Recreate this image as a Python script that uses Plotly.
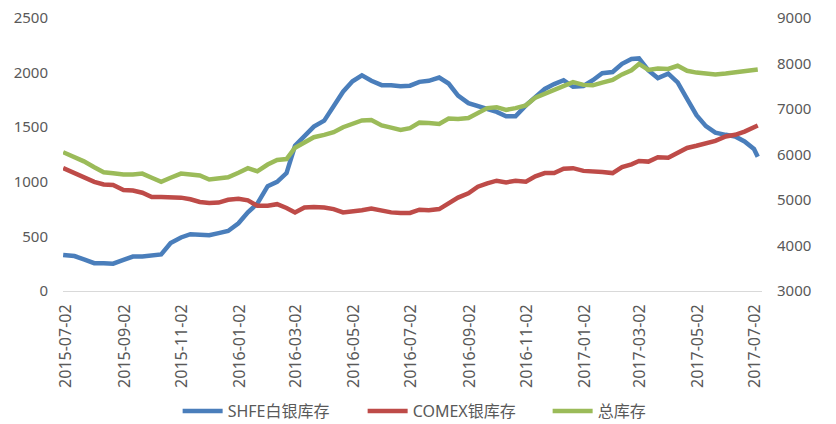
import plotly.graph_objects as go

dates = [
    "2015-06-29", "2015-07-11", "2015-07-21",
    "2015-08-01", "2015-08-11", "2015-08-21",
    "2015-09-01", "2015-09-11", "2015-09-21",
    "2015-10-01", "2015-10-11", "2015-10-21",
    "2015-11-01", "2015-11-11", "2015-11-21",
    "2015-12-01", "2015-12-11", "2015-12-21",
    "2016-01-01", "2016-01-11", "2016-01-21",
    "2016-02-01", "2016-02-11", "2016-02-21",
    "2016-03-01", "2016-03-11", "2016-03-21",
    "2016-04-01", "2016-04-11", "2016-04-21",
    "2016-05-01", "2016-05-11", "2016-05-21",
    "2016-06-01", "2016-06-11", "2016-06-21",
    "2016-07-01", "2016-07-11", "2016-07-21",
    "2016-08-01", "2016-08-11", "2016-08-21",
    "2016-09-01", "2016-09-11", "2016-09-21",
    "2016-10-01", "2016-10-11", "2016-10-21",
    "2016-11-01", "2016-11-11", "2016-11-21",
    "2016-12-01", "2016-12-11", "2016-12-21",
    "2017-01-01", "2017-01-11", "2017-01-21",
    "2017-02-01", "2017-02-11", "2017-02-21",
    "2017-03-01", "2017-03-11", "2017-03-21",
    "2017-04-01", "2017-04-11", "2017-04-21",
    "2017-05-01", "2017-05-11", "2017-05-21",
    "2017-06-01", "2017-06-11", "2017-06-21",
    "2017-07-01", "2017-07-05",
]

shfe = [
    330, 320, 290, 255, 255, 250, 285, 315, 315, 330, 335, 440, 490, 520, 520, 510, 530, 550,
    620, 720, 800, 960, 1000, 1080, 1330, 1420, 1505, 1560, 1700, 1825, 1920, 1975, 1925, 1885, 1885, 1875,
    1880, 1915, 1925, 1955, 1900, 1790, 1720, 1695, 1660, 1640, 1600, 1600, 1700, 1780, 1850, 1895, 1930, 1870,
    1877, 1930, 1995, 2005, 2080, 2125, 2130, 2020, 1950, 1990, 1910, 1760, 1610, 1510, 1450, 1430, 1415, 1370,
    1300, 1230,
]

comex = [
    1125, 1080, 1045, 1000, 975, 970, 925, 920, 900, 860, 860, 860, 855, 840, 815, 805, 810, 835,
    845, 830, 780, 780, 795, 760, 720, 765, 770, 765, 750, 720, 725, 740, 755, 735, 720, 715,
    715, 745, 740, 750, 800, 855, 895, 955, 985, 1010, 995, 1010, 1000, 1050, 1080, 1080, 1120, 1125,
    1100, 1090, 1090, 1080, 1135, 1160, 1190, 1185, 1225, 1220, 1260, 1310, 1330, 1350, 1375, 1415, 1430, 1460,
    1500, 1515,
]

total = [
    6050, 5950, 5850, 5720, 5610, 5590, 5560, 5560, 5580, 5490, 5400, 5490, 5580, 5560, 5540, 5450, 5470, 5500,
    5600, 5700, 5630, 5780, 5880, 5900, 6150, 6270, 6380, 6430, 6490, 6600, 6680, 6750, 6760, 6640, 6590, 6540,
    6580, 6700, 6690, 6670, 6790, 6780, 6800, 6900, 7020, 7040, 6980, 7020, 7080, 7250, 7340, 7430, 7510, 7590,
    7530, 7520, 7580, 7640, 7760, 7850, 7990, 7860, 7890, 7880, 7950, 7840, 7800, 7790, 7760, 7780, 7810, 7820,
    7860, 7870,
]

tick_dates = [
    "2015-07-02", "2015-09-02", "2015-11-02", "2016-01-02", "2016-03-02", "2016-05-02",
    "2016-07-02", "2016-09-02", "2016-11-02", "2017-01-02", "2017-03-02", "2017-05-02", "2017-07-02",
]
left_ticks = [0, 500, 1000, 1500, 2000, 2500]
right_ticks = [3000, 4000, 5000, 6000, 7000, 8000, 9000]

names = ["SHFE白银库存", "COMEX银库存", "总库存"]
colors = ["#4A7EBB", "#BE4B48", "#9BBB59"]

FONT = "Noto Sans, Noto Sans CJK SC, sans-serif"
TXT = "#595959"

fig = go.Figure()
fig.add_trace(go.Scatter(x=dates, y=shfe, name=names[0], mode="lines",
                         line=dict(color=colors[0], width=4.5)))
fig.add_trace(go.Scatter(x=dates, y=comex, name=names[1], mode="lines",
                         line=dict(color=colors[1], width=4.5)))
fig.add_trace(go.Scatter(x=dates, y=total, name=names[2], mode="lines", yaxis="y2",
                         line=dict(color=colors[2], width=4.5)))

fig.update_layout(
    width=836, height=424,
    margin=dict(l=63, r=74, t=18, b=133, autoexpand=False),
    paper_bgcolor="white", plot_bgcolor="white",
    font=dict(family=FONT, color=TXT, size=15),
    showlegend=True,
    legend=dict(orientation="h", x=0.164, xanchor="left", y=-0.44,
                yanchor="middle", font=dict(size=16, color=TXT, family=FONT),
                itemwidth=40, entrywidth=130, entrywidthmode="pixels",
                tracegroupgap=0, bgcolor="rgba(0,0,0,0)"),
    xaxis=dict(
        type="date",
        range=["2015-06-28 20:00", "2017-07-09 12:00"],
        tickmode="array", tickvals=tick_dates, ticktext=tick_dates,
        tickangle=-90, tickfont=dict(size=16, color=TXT, family=FONT),
        showgrid=False, zeroline=False,
        showline=True, linecolor="#D9D9D9", linewidth=1,
        ticks="", ticklabelstandoff=6,
    ),
    yaxis=dict(
        range=[0, 2500], tickmode="array", tickvals=left_ticks,
        showgrid=False, zeroline=False, showline=False, ticks="",
        tickfont=dict(size=15, color=TXT, family=FONT),
        ticklabelstandoff=14,
    ),
    yaxis2=dict(
        range=[3000, 9000], tickmode="array", tickvals=right_ticks,
        overlaying="y", side="right",
        showgrid=False, zeroline=False, showline=False, ticks="",
        tickfont=dict(size=15, color=TXT, family=FONT),
        ticklabelstandoff=14,
    ),
)

fig.write_html("out.html", config={"displayModeBar": False},
               post_script="document.body.style.margin='0px';document.body.style.padding='0px';")
